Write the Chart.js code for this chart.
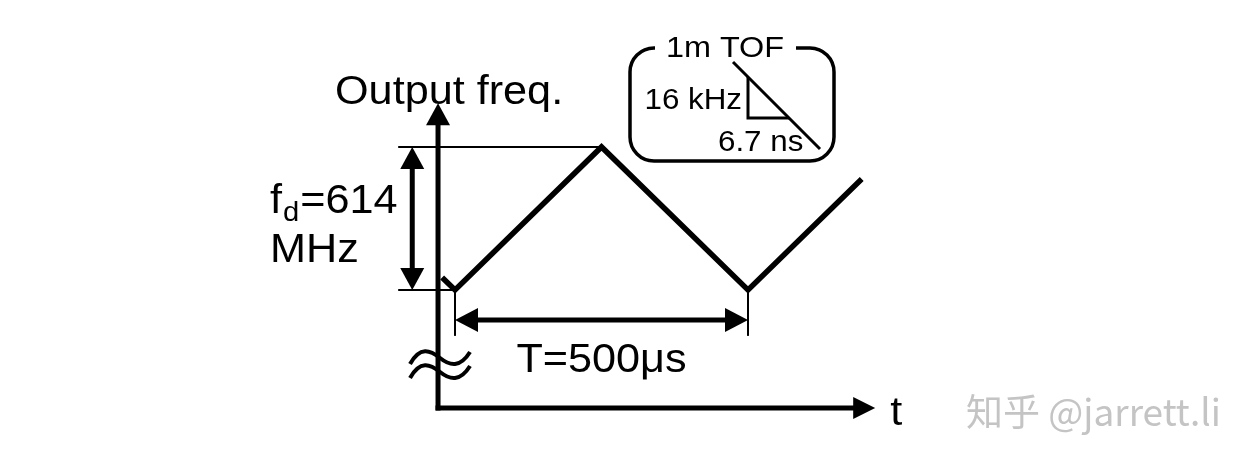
<!DOCTYPE html>
<html>
<head>
<meta charset="utf-8">
<script src="https://cdn.jsdelivr.net/npm/chart.js@4/dist/chart.umd.min.js"></script>
<style>
  html, body { margin: 0; padding: 0; background: #fff; }
  canvas { display: block; }
</style>
</head>
<body>
<canvas id="sweep-chart" width="1260" height="467"></canvas>
<script>
// Triangle-wave sweep (time in µs, frequency offset in MHz)
const timeUs = [-22, 0, 250, 500, 694];
const freqMHz = [54, 0, 614, 0, 476];

// Labels
const yTitle = 'Output freq.';
const xTitle = 't';
const devLabel = ['f', 'd', '=614'];
const devUnit = 'MHz';
const periodLabel = 'T=500\u03bcs';
const insetTitle = '1m TOF';
const insetFreq = '16 kHz';
const insetTime = '6.7 ns';
const watermark = '\u77e5\u4e4e @jarrett.li';

// Axis placement, in data units
const axisTime = -29;
const axisFreq = -506;
const axisTopFreq = 802;
const axisEndTime = 717;
const guideStartTime = -97;
const devArrowTime = -73;
const periodArrowFreq = -129;
const periodTickFreq = -197;
const breakFreqs = [-292, -352];

const FONT = '"Liberation Sans", Arial, sans-serif';
const STRETCH = 1.08;

const drawText = (ctx, text, x, y, size, align = 'left', color = '#000') => {
  ctx.save();
  ctx.font = `${size}px ${FONT}`;
  ctx.fillStyle = color;
  ctx.textBaseline = 'alphabetic';
  const w = ctx.measureText(text).width * STRETCH;
  let left = x;
  if (align === 'right') left = x - w;
  if (align === 'center') left = x - w / 2;
  ctx.translate(left, y);
  ctx.scale(STRETCH, 1);
  ctx.fillText(text, 0, 0);
  ctx.restore();
  return w;
};

const arrowHead = (ctx, tipX, tipY, dx, dy, len, half) => {
  const bx = tipX - dx * len, by = tipY - dy * len;
  ctx.beginPath();
  ctx.moveTo(tipX, tipY);
  ctx.lineTo(bx - dy * half, by + dx * half);
  ctx.lineTo(bx + dy * half, by - dx * half);
  ctx.closePath();
  ctx.fill();
};

const line = (ctx, x1, y1, x2, y2, width) => {
  ctx.lineWidth = width;
  ctx.beginPath();
  ctx.moveTo(x1, y1);
  ctx.lineTo(x2, y2);
  ctx.stroke();
};

const diagramPlugin = {
  id: 'diagram',
  beforeDraw(chart) {
    const { ctx, width, height } = chart;
    ctx.save();
    ctx.fillStyle = '#fff';
    ctx.fillRect(0, 0, width, height);
    ctx.restore();
  },
  afterDatasetsDraw(chart) {
    const { ctx } = chart;
    const xs = chart.scales.x, ys = chart.scales.y;
    const px = v => xs.getPixelForValue(v);
    const py = v => ys.getPixelForValue(v);

    const peakFreq = Math.max(...freqMHz);
    const peakTime = timeUs[freqMHz.indexOf(peakFreq)];
    const troughTimes = timeUs.filter((t, i) => freqMHz[i] === 0);

    ctx.save();
    ctx.strokeStyle = '#000';
    ctx.fillStyle = '#000';
    ctx.lineCap = 'butt';

    // axes
    const ax = px(axisTime), ay = py(axisFreq);
    const yTip = py(axisTopFreq), xTip = px(axisEndTime);
    line(ctx, ax, ay + 2.5, ax, yTip + 18, 5);
    arrowHead(ctx, ax, yTip, 0, -1, 22, 12);
    line(ctx, ax - 2.5, ay, xTip - 18, ay, 5);
    arrowHead(ctx, xTip, ay, 1, 0, 22, 11);

    // axis break
    ctx.lineWidth = 4;
    breakFreqs.forEach(f => {
      const y = py(f);
      ctx.beginPath();
      ctx.moveTo(ax - 28, y + 6);
      ctx.bezierCurveTo(ax - 18, y - 12, ax - 8, y - 8, ax + 2, y);
      ctx.bezierCurveTo(ax + 12, y + 8, ax + 22, y + 10, ax + 32, y - 6);
      ctx.stroke();
    });

    // deviation guides and arrow
    const yTop = py(peakFreq), yBot = py(0);
    line(ctx, px(guideStartTime), yTop, px(peakTime), yTop, 2);
    line(ctx, px(guideStartTime), yBot, px(troughTimes[0]), yBot, 2);
    const dx = px(devArrowTime);
    line(ctx, dx, yTop + 18, dx, yBot - 18, 5);
    arrowHead(ctx, dx, yTop, 0, -1, 22, 12);
    arrowHead(ctx, dx, yBot, 0, 1, 22, 12);

    // period ticks and arrow
    const t0 = px(troughTimes[0]), t1 = px(troughTimes[1]);
    const pyA = py(periodArrowFreq);
    line(ctx, t0, yBot, t0, py(periodTickFreq), 2);
    line(ctx, t1, yBot, t1, py(periodTickFreq), 2);
    line(ctx, t0 + 18, pyA, t1 - 18, pyA, 5);
    arrowHead(ctx, t0, pyA, -1, 0, 23, 12);
    arrowHead(ctx, t1, pyA, 1, 0, 23, 12);

    // labels
    drawText(ctx, yTitle, 335, 104, 40);
    drawText(ctx, xTitle, xTip + 15, ay + 17, 40);
    let x = 270;
    x += drawText(ctx, devLabel[0], x, 213, 40);
    x += drawText(ctx, devLabel[1], x + 1, 221, 27) + 2;
    drawText(ctx, devLabel[2], x, 213, 40);
    drawText(ctx, devUnit, 270, 262, 40);
    drawText(ctx, periodLabel, (t0 + t1) / 2, 372, 40, 'center');

    // inset box
    const bx0 = 630, by0 = 48, bx1 = 834, by1 = 161, r = 24;
    const gapL = 655, gapR = 796;
    ctx.lineWidth = 3.5;
    ctx.beginPath();
    ctx.moveTo(gapR, by0);
    ctx.arcTo(bx1, by0, bx1, by1, r);
    ctx.arcTo(bx1, by1, bx0, by1, r);
    ctx.arcTo(bx0, by1, bx0, by0, r);
    ctx.arcTo(bx0, by0, bx1, by0, r);
    ctx.lineTo(gapL, by0);
    ctx.stroke();
    drawText(ctx, insetTitle, 725, 57, 30, 'center');
    line(ctx, 733, 62, 820, 149, 3);
    ctx.lineWidth = 3;
    ctx.beginPath();
    ctx.moveTo(748, 77);
    ctx.lineTo(748, 118);
    ctx.lineTo(789, 118);
    ctx.stroke();
    drawText(ctx, insetFreq, 742, 109, 29, 'right');
    drawText(ctx, insetTime, 718, 151, 29);

    // watermark
    ctx.font = `37px "Noto Sans CJK SC", "Noto Sans", sans-serif`;
    ctx.fillStyle = '#c4c4c4';
    ctx.textBaseline = 'alphabetic';
    ctx.fillText(watermark, 966, 426);

    ctx.restore();
  }
};

const canvas = document.getElementById('sweep-chart');
new Chart(canvas, {
  type: 'line',
  data: {
    datasets: [{
      data: timeUs.map((t, i) => ({ x: t, y: freqMHz[i] })),
      borderColor: '#000',
      borderWidth: 5.5,
      pointRadius: 0,
      tension: 0,
      borderJoinStyle: 'miter',
      borderCapStyle: 'butt',
      clip: false
    }]
  },
  options: {
    responsive: false,
    animation: false,
    devicePixelRatio: 1,
    layout: { padding: 0 },
    plugins: {
      legend: { display: false },
      tooltip: { enabled: false }
    },
    scales: {
      x: { type: 'linear', display: false, min: -776.5, max: 1373.7 },
      y: { type: 'linear', display: false, min: -759.7, max: 1244.6 }
    }
  },
  plugins: [diagramPlugin]
});
</script>
</body>
</html>
